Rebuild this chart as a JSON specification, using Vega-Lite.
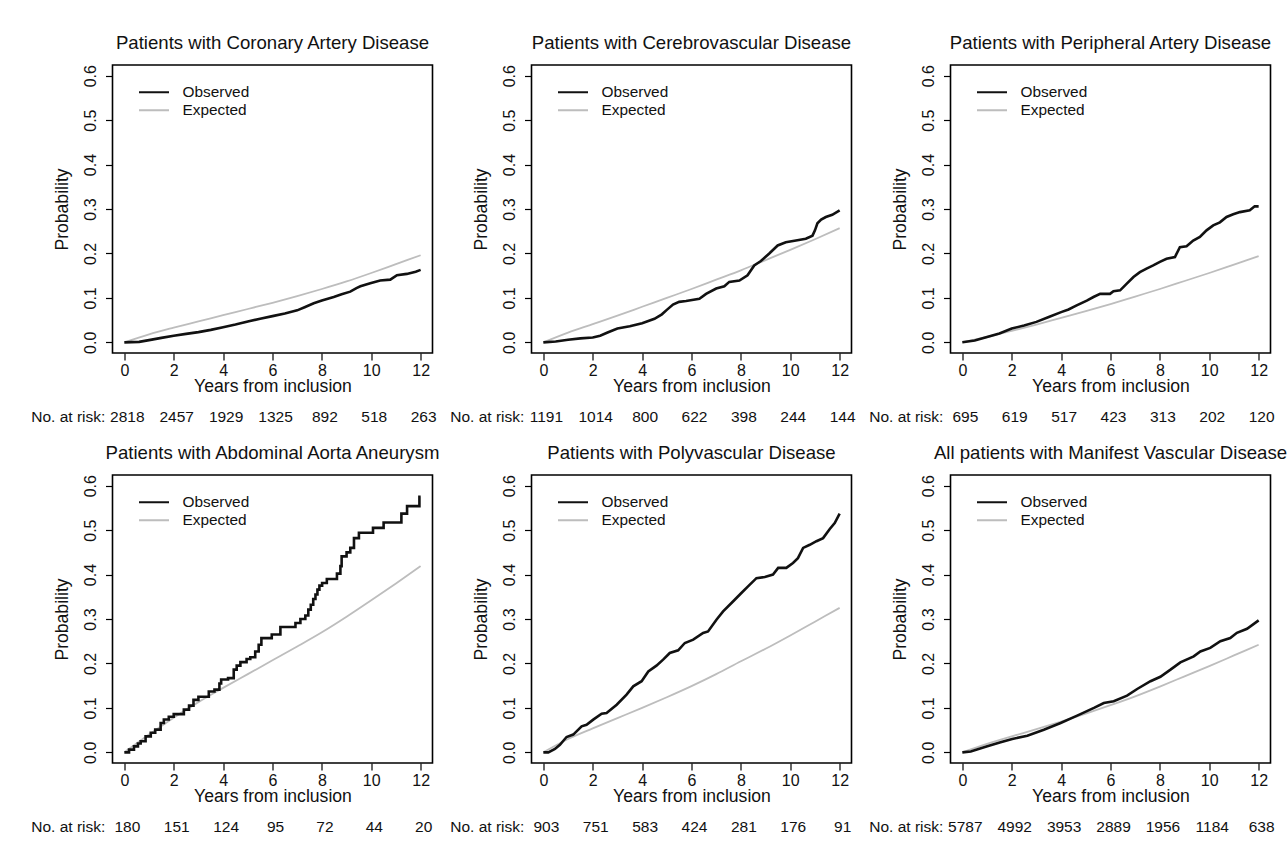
{
"$schema":"https://vega.github.io/schema/vega-lite/v6.json",
"background":"white",
"padding":{"left":29.5,"top":33,"right":5,"bottom":5},
"datasets":{
"curves":[
{"panel":"CAD","series":"Observed","t":0,"p":0},{"panel":"CAD","series":"Observed","t":0.6,"p":0.001},{"panel":"CAD","series":"Observed","t":1,"p":0.005},{"panel":"CAD","series":"Observed","t":1.5,"p":0.01},{"panel":"CAD","series":"Observed","t":2,"p":0.015},{"panel":"CAD","series":"Observed","t":2.5,"p":0.019},{"panel":"CAD","series":"Observed","t":3,"p":0.023},{"panel":"CAD","series":"Observed","t":3.5,"p":0.028},{"panel":"CAD","series":"Observed","t":4,"p":0.034},{"panel":"CAD","series":"Observed","t":4.5,"p":0.04},{"panel":"CAD","series":"Observed","t":5,"p":0.047},{"panel":"CAD","series":"Observed","t":5.5,"p":0.053},{"panel":"CAD","series":"Observed","t":6,"p":0.059},{"panel":"CAD","series":"Observed","t":6.5,"p":0.065},{"panel":"CAD","series":"Observed","t":7,"p":0.072},{"panel":"CAD","series":"Observed","t":7.3,"p":0.079},{"panel":"CAD","series":"Observed","t":7.67,"p":0.088},{"panel":"CAD","series":"Observed","t":8,"p":0.094},{"panel":"CAD","series":"Observed","t":8.48,"p":0.102},{"panel":"CAD","series":"Observed","t":8.8,"p":0.108},{"panel":"CAD","series":"Observed","t":9.15,"p":0.114},{"panel":"CAD","series":"Observed","t":9.4,"p":0.122},{"panel":"CAD","series":"Observed","t":9.56,"p":0.126},{"panel":"CAD","series":"Observed","t":9.96,"p":0.133},{"panel":"CAD","series":"Observed","t":10.36,"p":0.139},{"panel":"CAD","series":"Observed","t":10.77,"p":0.141},{"panel":"CAD","series":"Observed","t":11.04,"p":0.151},{"panel":"CAD","series":"Observed","t":11.44,"p":0.154},{"panel":"CAD","series":"Observed","t":11.8,"p":0.159},{"panel":"CAD","series":"Observed","t":12,"p":0.163},
{"panel":"CAD","series":"Expected","t":0,"p":0},{"panel":"CAD","series":"Expected","t":1,"p":0.018},{"panel":"CAD","series":"Expected","t":2,"p":0.033},{"panel":"CAD","series":"Expected","t":3,"p":0.047},{"panel":"CAD","series":"Expected","t":4,"p":0.061},{"panel":"CAD","series":"Expected","t":5,"p":0.075},{"panel":"CAD","series":"Expected","t":6,"p":0.089},{"panel":"CAD","series":"Expected","t":7,"p":0.104},{"panel":"CAD","series":"Expected","t":8,"p":0.12},{"panel":"CAD","series":"Expected","t":9,"p":0.137},{"panel":"CAD","series":"Expected","t":10,"p":0.156},{"panel":"CAD","series":"Expected","t":11,"p":0.176},{"panel":"CAD","series":"Expected","t":12,"p":0.196},
{"panel":"CVD","series":"Observed","t":0,"p":0},{"panel":"CVD","series":"Observed","t":0.5,"p":0.002},{"panel":"CVD","series":"Observed","t":1,"p":0.006},{"panel":"CVD","series":"Observed","t":1.5,"p":0.009},{"panel":"CVD","series":"Observed","t":2,"p":0.011},{"panel":"CVD","series":"Observed","t":2.3,"p":0.015},{"panel":"CVD","series":"Observed","t":2.6,"p":0.022},{"panel":"CVD","series":"Observed","t":3,"p":0.031},{"panel":"CVD","series":"Observed","t":3.5,"p":0.036},{"panel":"CVD","series":"Observed","t":4,"p":0.043},{"panel":"CVD","series":"Observed","t":4.5,"p":0.053},{"panel":"CVD","series":"Observed","t":4.8,"p":0.063},{"panel":"CVD","series":"Observed","t":5,"p":0.073},{"panel":"CVD","series":"Observed","t":5.25,"p":0.085},{"panel":"CVD","series":"Observed","t":5.5,"p":0.091},{"panel":"CVD","series":"Observed","t":5.78,"p":0.093},{"panel":"CVD","series":"Observed","t":6.32,"p":0.098},{"panel":"CVD","series":"Observed","t":6.59,"p":0.109},{"panel":"CVD","series":"Observed","t":7,"p":0.121},{"panel":"CVD","series":"Observed","t":7.33,"p":0.126},{"panel":"CVD","series":"Observed","t":7.53,"p":0.136},{"panel":"CVD","series":"Observed","t":7.94,"p":0.139},{"panel":"CVD","series":"Observed","t":8.27,"p":0.151},{"panel":"CVD","series":"Observed","t":8.54,"p":0.173},{"panel":"CVD","series":"Observed","t":8.81,"p":0.183},{"panel":"CVD","series":"Observed","t":9.15,"p":0.2},{"panel":"CVD","series":"Observed","t":9.49,"p":0.218},{"panel":"CVD","series":"Observed","t":9.82,"p":0.225},{"panel":"CVD","series":"Observed","t":10.23,"p":0.229},{"panel":"CVD","series":"Observed","t":10.63,"p":0.233},{"panel":"CVD","series":"Observed","t":10.9,"p":0.24},{"panel":"CVD","series":"Observed","t":11,"p":0.252},{"panel":"CVD","series":"Observed","t":11.1,"p":0.268},{"panel":"CVD","series":"Observed","t":11.25,"p":0.276},{"panel":"CVD","series":"Observed","t":11.44,"p":0.282},{"panel":"CVD","series":"Observed","t":11.7,"p":0.287},{"panel":"CVD","series":"Observed","t":12,"p":0.297},
{"panel":"CVD","series":"Expected","t":0,"p":0},{"panel":"CVD","series":"Expected","t":1,"p":0.022},{"panel":"CVD","series":"Expected","t":2,"p":0.041},{"panel":"CVD","series":"Expected","t":3,"p":0.06},{"panel":"CVD","series":"Expected","t":4,"p":0.08},{"panel":"CVD","series":"Expected","t":5,"p":0.1},{"panel":"CVD","series":"Expected","t":6,"p":0.12},{"panel":"CVD","series":"Expected","t":7,"p":0.141},{"panel":"CVD","series":"Expected","t":8,"p":0.162},{"panel":"CVD","series":"Expected","t":9,"p":0.185},{"panel":"CVD","series":"Expected","t":10,"p":0.208},{"panel":"CVD","series":"Expected","t":11,"p":0.232},{"panel":"CVD","series":"Expected","t":12,"p":0.257},
{"panel":"PAD","series":"Observed","t":0,"p":0},{"panel":"PAD","series":"Observed","t":0.5,"p":0.004},{"panel":"PAD","series":"Observed","t":1,"p":0.012},{"panel":"PAD","series":"Observed","t":1.5,"p":0.02},{"panel":"PAD","series":"Observed","t":2,"p":0.031},{"panel":"PAD","series":"Observed","t":2.5,"p":0.038},{"panel":"PAD","series":"Observed","t":3,"p":0.046},{"panel":"PAD","series":"Observed","t":3.5,"p":0.057},{"panel":"PAD","series":"Observed","t":4,"p":0.068},{"panel":"PAD","series":"Observed","t":4.3,"p":0.074},{"panel":"PAD","series":"Observed","t":4.63,"p":0.083},{"panel":"PAD","series":"Observed","t":5.04,"p":0.094},{"panel":"PAD","series":"Observed","t":5.31,"p":0.102},{"panel":"PAD","series":"Observed","t":5.58,"p":0.109},{"panel":"PAD","series":"Observed","t":5.98,"p":0.109},{"panel":"PAD","series":"Observed","t":6.12,"p":0.115},{"panel":"PAD","series":"Observed","t":6.39,"p":0.117},{"panel":"PAD","series":"Observed","t":6.66,"p":0.132},{"panel":"PAD","series":"Observed","t":6.93,"p":0.147},{"panel":"PAD","series":"Observed","t":7.19,"p":0.158},{"panel":"PAD","series":"Observed","t":7.46,"p":0.166},{"panel":"PAD","series":"Observed","t":7.73,"p":0.173},{"panel":"PAD","series":"Observed","t":8,"p":0.181},{"panel":"PAD","series":"Observed","t":8.27,"p":0.188},{"panel":"PAD","series":"Observed","t":8.61,"p":0.192},{"panel":"PAD","series":"Observed","t":8.81,"p":0.214},{"panel":"PAD","series":"Observed","t":9.08,"p":0.216},{"panel":"PAD","series":"Observed","t":9.35,"p":0.229},{"panel":"PAD","series":"Observed","t":9.62,"p":0.237},{"panel":"PAD","series":"Observed","t":9.89,"p":0.252},{"panel":"PAD","series":"Observed","t":10.16,"p":0.263},{"panel":"PAD","series":"Observed","t":10.43,"p":0.27},{"panel":"PAD","series":"Observed","t":10.7,"p":0.282},{"panel":"PAD","series":"Observed","t":10.97,"p":0.288},{"panel":"PAD","series":"Observed","t":11.24,"p":0.293},{"panel":"PAD","series":"Observed","t":11.64,"p":0.297},{"panel":"PAD","series":"Observed","t":11.84,"p":0.306},{"panel":"PAD","series":"Observed","t":12,"p":0.306},
{"panel":"PAD","series":"Expected","t":0,"p":0},{"panel":"PAD","series":"Expected","t":1,"p":0.012},{"panel":"PAD","series":"Expected","t":2,"p":0.026},{"panel":"PAD","series":"Expected","t":3,"p":0.04},{"panel":"PAD","series":"Expected","t":4,"p":0.055},{"panel":"PAD","series":"Expected","t":5,"p":0.07},{"panel":"PAD","series":"Expected","t":6,"p":0.086},{"panel":"PAD","series":"Expected","t":7,"p":0.103},{"panel":"PAD","series":"Expected","t":8,"p":0.12},{"panel":"PAD","series":"Expected","t":9,"p":0.138},{"panel":"PAD","series":"Expected","t":10,"p":0.156},{"panel":"PAD","series":"Expected","t":11,"p":0.175},{"panel":"PAD","series":"Expected","t":12,"p":0.194},
{"panel":"AAA","series":"Observed","t":0,"p":0},{"panel":"AAA","series":"Observed","t":0.19,"p":0.006},{"panel":"AAA","series":"Observed","t":0.39,"p":0.0135},{"panel":"AAA","series":"Observed","t":0.55,"p":0.02},{"panel":"AAA","series":"Observed","t":0.66,"p":0.025},{"panel":"AAA","series":"Observed","t":0.86,"p":0.036},{"panel":"AAA","series":"Observed","t":1.07,"p":0.044},{"panel":"AAA","series":"Observed","t":1.25,"p":0.051},{"panel":"AAA","series":"Observed","t":1.47,"p":0.066},{"panel":"AAA","series":"Observed","t":1.6,"p":0.074},{"panel":"AAA","series":"Observed","t":1.8,"p":0.08},{"panel":"AAA","series":"Observed","t":2,"p":0.086},{"panel":"AAA","series":"Observed","t":2.41,"p":0.096},{"panel":"AAA","series":"Observed","t":2.62,"p":0.105},{"panel":"AAA","series":"Observed","t":2.8,"p":0.118},{"panel":"AAA","series":"Observed","t":3,"p":0.125},{"panel":"AAA","series":"Observed","t":3.42,"p":0.137},{"panel":"AAA","series":"Observed","t":3.65,"p":0.141},{"panel":"AAA","series":"Observed","t":3.85,"p":0.155},{"panel":"AAA","series":"Observed","t":3.92,"p":0.164},{"panel":"AAA","series":"Observed","t":4.2,"p":0.167},{"panel":"AAA","series":"Observed","t":4.43,"p":0.186},{"panel":"AAA","series":"Observed","t":4.55,"p":0.195},{"panel":"AAA","series":"Observed","t":4.7,"p":0.203},{"panel":"AAA","series":"Observed","t":4.95,"p":0.21},{"panel":"AAA","series":"Observed","t":5.1,"p":0.214},{"panel":"AAA","series":"Observed","t":5.3,"p":0.227},{"panel":"AAA","series":"Observed","t":5.44,"p":0.242},{"panel":"AAA","series":"Observed","t":5.55,"p":0.257},{"panel":"AAA","series":"Observed","t":5.97,"p":0.265},{"panel":"AAA","series":"Observed","t":6.32,"p":0.282},{"panel":"AAA","series":"Observed","t":6.93,"p":0.291},{"panel":"AAA","series":"Observed","t":7.13,"p":0.3},{"panel":"AAA","series":"Observed","t":7.33,"p":0.308},{"panel":"AAA","series":"Observed","t":7.45,"p":0.321},{"panel":"AAA","series":"Observed","t":7.55,"p":0.332},{"panel":"AAA","series":"Observed","t":7.65,"p":0.345},{"panel":"AAA","series":"Observed","t":7.74,"p":0.355},{"panel":"AAA","series":"Observed","t":7.82,"p":0.366},{"panel":"AAA","series":"Observed","t":7.9,"p":0.375},{"panel":"AAA","series":"Observed","t":8.01,"p":0.381},{"panel":"AAA","series":"Observed","t":8.2,"p":0.39},{"panel":"AAA","series":"Observed","t":8.61,"p":0.402},{"panel":"AAA","series":"Observed","t":8.75,"p":0.419},{"panel":"AAA","series":"Observed","t":8.8,"p":0.441},{"panel":"AAA","series":"Observed","t":9,"p":0.45},{"panel":"AAA","series":"Observed","t":9.15,"p":0.46},{"panel":"AAA","series":"Observed","t":9.3,"p":0.482},{"panel":"AAA","series":"Observed","t":9.5,"p":0.494},{"panel":"AAA","series":"Observed","t":10.07,"p":0.505},{"panel":"AAA","series":"Observed","t":10.5,"p":0.517},{"panel":"AAA","series":"Observed","t":11.22,"p":0.537},{"panel":"AAA","series":"Observed","t":11.45,"p":0.554},{"panel":"AAA","series":"Observed","t":11.95,"p":0.575},{"panel":"AAA","series":"Observed","t":12,"p":0.575},
{"panel":"AAA","series":"Expected","t":0,"p":0},{"panel":"AAA","series":"Expected","t":1,"p":0.04},{"panel":"AAA","series":"Expected","t":2,"p":0.078},{"panel":"AAA","series":"Expected","t":3,"p":0.113},{"panel":"AAA","series":"Expected","t":4,"p":0.145},{"panel":"AAA","series":"Expected","t":5,"p":0.176},{"panel":"AAA","series":"Expected","t":6,"p":0.207},{"panel":"AAA","series":"Expected","t":7,"p":0.238},{"panel":"AAA","series":"Expected","t":8,"p":0.27},{"panel":"AAA","series":"Expected","t":9,"p":0.305},{"panel":"AAA","series":"Expected","t":10,"p":0.342},{"panel":"AAA","series":"Expected","t":11,"p":0.38},{"panel":"AAA","series":"Expected","t":12,"p":0.419},
{"panel":"POLY","series":"Observed","t":0,"p":0},{"panel":"POLY","series":"Observed","t":0.2,"p":0},{"panel":"POLY","series":"Observed","t":0.47,"p":0.0075},{"panel":"POLY","series":"Observed","t":0.67,"p":0.017},{"panel":"POLY","series":"Observed","t":0.94,"p":0.0345},{"panel":"POLY","series":"Observed","t":1.21,"p":0.04},{"panel":"POLY","series":"Observed","t":1.55,"p":0.0585},{"panel":"POLY","series":"Observed","t":1.75,"p":0.062},{"panel":"POLY","series":"Observed","t":2.02,"p":0.0735},{"panel":"POLY","series":"Observed","t":2.36,"p":0.087},{"panel":"POLY","series":"Observed","t":2.56,"p":0.0885},{"panel":"POLY","series":"Observed","t":2.97,"p":0.107},{"panel":"POLY","series":"Observed","t":3.37,"p":0.13},{"panel":"POLY","series":"Observed","t":3.64,"p":0.1485},{"panel":"POLY","series":"Observed","t":3.98,"p":0.16},{"panel":"POLY","series":"Observed","t":4.25,"p":0.182},{"panel":"POLY","series":"Observed","t":4.58,"p":0.195},{"panel":"POLY","series":"Observed","t":4.85,"p":0.2085},{"panel":"POLY","series":"Observed","t":5.12,"p":0.2235},{"panel":"POLY","series":"Observed","t":5.46,"p":0.2295},{"panel":"POLY","series":"Observed","t":5.73,"p":0.246},{"panel":"POLY","series":"Observed","t":6.07,"p":0.2535},{"panel":"POLY","series":"Observed","t":6.47,"p":0.2685},{"panel":"POLY","series":"Observed","t":6.67,"p":0.272},{"panel":"POLY","series":"Observed","t":7.01,"p":0.2985},{"panel":"POLY","series":"Observed","t":7.28,"p":0.317},{"panel":"POLY","series":"Observed","t":7.69,"p":0.34},{"panel":"POLY","series":"Observed","t":8.02,"p":0.3585},{"panel":"POLY","series":"Observed","t":8.29,"p":0.3735},{"panel":"POLY","series":"Observed","t":8.63,"p":0.392},{"panel":"POLY","series":"Observed","t":8.97,"p":0.3945},{"panel":"POLY","series":"Observed","t":9.3,"p":0.4},{"panel":"POLY","series":"Observed","t":9.51,"p":0.415},{"panel":"POLY","series":"Observed","t":9.84,"p":0.415},{"panel":"POLY","series":"Observed","t":10.11,"p":0.426},{"panel":"POLY","series":"Observed","t":10.31,"p":0.437},{"panel":"POLY","series":"Observed","t":10.52,"p":0.46},{"panel":"POLY","series":"Observed","t":10.79,"p":0.467},{"panel":"POLY","series":"Observed","t":11.06,"p":0.475},{"panel":"POLY","series":"Observed","t":11.33,"p":0.482},{"panel":"POLY","series":"Observed","t":11.6,"p":0.5025},{"panel":"POLY","series":"Observed","t":11.8,"p":0.516},{"panel":"POLY","series":"Observed","t":12,"p":0.537},
{"panel":"POLY","series":"Expected","t":0,"p":0},{"panel":"POLY","series":"Expected","t":1,"p":0.03},{"panel":"POLY","series":"Expected","t":2,"p":0.054},{"panel":"POLY","series":"Expected","t":3,"p":0.077},{"panel":"POLY","series":"Expected","t":4,"p":0.1},{"panel":"POLY","series":"Expected","t":5,"p":0.124},{"panel":"POLY","series":"Expected","t":6,"p":0.149},{"panel":"POLY","series":"Expected","t":7,"p":0.176},{"panel":"POLY","series":"Expected","t":8,"p":0.205},{"panel":"POLY","series":"Expected","t":9,"p":0.233},{"panel":"POLY","series":"Expected","t":10,"p":0.263},{"panel":"POLY","series":"Expected","t":11,"p":0.294},{"panel":"POLY","series":"Expected","t":12,"p":0.325},
{"panel":"ALL","series":"Observed","t":0,"p":0},{"panel":"ALL","series":"Observed","t":0.34,"p":0.002},{"panel":"ALL","series":"Observed","t":1.01,"p":0.0135},{"panel":"ALL","series":"Observed","t":1.55,"p":0.0225},{"panel":"ALL","series":"Observed","t":2.02,"p":0.03},{"panel":"ALL","series":"Observed","t":2.63,"p":0.0375},{"panel":"ALL","series":"Observed","t":3.3,"p":0.051},{"panel":"ALL","series":"Observed","t":3.98,"p":0.066},{"panel":"ALL","series":"Observed","t":4.65,"p":0.0825},{"panel":"ALL","series":"Observed","t":5.33,"p":0.1},{"panel":"ALL","series":"Observed","t":5.73,"p":0.111},{"panel":"ALL","series":"Observed","t":6.13,"p":0.115},{"panel":"ALL","series":"Observed","t":6.67,"p":0.1275},{"panel":"ALL","series":"Observed","t":7.08,"p":0.1425},{"panel":"ALL","series":"Observed","t":7.62,"p":0.16},{"panel":"ALL","series":"Observed","t":8.02,"p":0.17},{"panel":"ALL","series":"Observed","t":8.43,"p":0.186},{"panel":"ALL","series":"Observed","t":8.83,"p":0.2025},{"panel":"ALL","series":"Observed","t":9.37,"p":0.216},{"panel":"ALL","series":"Observed","t":9.64,"p":0.227},{"panel":"ALL","series":"Observed","t":10.04,"p":0.235},{"panel":"ALL","series":"Observed","t":10.45,"p":0.25},{"panel":"ALL","series":"Observed","t":10.85,"p":0.257},{"panel":"ALL","series":"Observed","t":11.12,"p":0.269},{"panel":"ALL","series":"Observed","t":11.53,"p":0.278},{"panel":"ALL","series":"Observed","t":12,"p":0.297},
{"panel":"ALL","series":"Expected","t":0,"p":0},{"panel":"ALL","series":"Expected","t":1,"p":0.019},{"panel":"ALL","series":"Expected","t":2,"p":0.036},{"panel":"ALL","series":"Expected","t":3,"p":0.052},{"panel":"ALL","series":"Expected","t":4,"p":0.069},{"panel":"ALL","series":"Expected","t":5,"p":0.087},{"panel":"ALL","series":"Expected","t":6,"p":0.106},{"panel":"ALL","series":"Expected","t":7,"p":0.126},{"panel":"ALL","series":"Expected","t":8,"p":0.148},{"panel":"ALL","series":"Expected","t":9,"p":0.171},{"panel":"ALL","series":"Expected","t":10,"p":0.194},{"panel":"ALL","series":"Expected","t":11,"p":0.218},{"panel":"ALL","series":"Expected","t":12,"p":0.242}
],
"risk":[
{"panel":"CAD","t":0,"n":2818},{"panel":"CAD","t":2,"n":2457},{"panel":"CAD","t":4,"n":1929},{"panel":"CAD","t":6,"n":1325},{"panel":"CAD","t":8,"n":892},{"panel":"CAD","t":10,"n":518},{"panel":"CAD","t":12,"n":263},
{"panel":"CVD","t":0,"n":1191},{"panel":"CVD","t":2,"n":1014},{"panel":"CVD","t":4,"n":800},{"panel":"CVD","t":6,"n":622},{"panel":"CVD","t":8,"n":398},{"panel":"CVD","t":10,"n":244},{"panel":"CVD","t":12,"n":144},
{"panel":"PAD","t":0,"n":695},{"panel":"PAD","t":2,"n":619},{"panel":"PAD","t":4,"n":517},{"panel":"PAD","t":6,"n":423},{"panel":"PAD","t":8,"n":313},{"panel":"PAD","t":10,"n":202},{"panel":"PAD","t":12,"n":120},
{"panel":"AAA","t":0,"n":180},{"panel":"AAA","t":2,"n":151},{"panel":"AAA","t":4,"n":124},{"panel":"AAA","t":6,"n":95},{"panel":"AAA","t":8,"n":72},{"panel":"AAA","t":10,"n":44},{"panel":"AAA","t":12,"n":20},
{"panel":"POLY","t":0,"n":903},{"panel":"POLY","t":2,"n":751},{"panel":"POLY","t":4,"n":583},{"panel":"POLY","t":6,"n":424},{"panel":"POLY","t":8,"n":281},{"panel":"POLY","t":10,"n":176},{"panel":"POLY","t":12,"n":91},
{"panel":"ALL","t":0,"n":5787},{"panel":"ALL","t":2,"n":4992},{"panel":"ALL","t":4,"n":3953},{"panel":"ALL","t":6,"n":2889},{"panel":"ALL","t":8,"n":1956},{"panel":"ALL","t":10,"n":1184},{"panel":"ALL","t":12,"n":638}
],
"label":[{"label":"No. at risk:"}]
},
"columns":3,
"bounds":"flush",
"spacing":{"row":122,"column":99},
"resolve":{"legend":{"stroke":"independent"}},
"concat":[
{"title":"Patients with Coronary Artery Disease","width":320,"height":288,
"layer":[
{"data":{"name":"curves"},"transform":[{"filter":"datum.panel === 'CAD' && datum.series === 'Expected'"}],"mark":{"type":"line","strokeWidth":1.8,"interpolate":"monotone"},"encoding":{"x":{"field":"t","type":"quantitative","scale":{"domain":[-0.48,12.48],"nice":false,"zero":false},"axis":{"values":[0,2,4,6,8,10,12],"title":"Years from inclusion"}},"y":{"field":"p","type":"quantitative","scale":{"domain":[-0.024,0.624],"nice":false,"zero":false},"axis":{"values":[0,0.1,0.2,0.3,0.4,0.5,0.6],"format":".1f","title":"Probability"}},"stroke":{"field":"series","type":"nominal","scale":{"domain":["Observed","Expected"],"range":["#111111","#bdbdbd"]},"legend":{"orient":"none","legendX":25,"legendY":18.5,"title":null,"symbolType":"stroke","symbolSize":900,"symbolStrokeWidth":2.2,"labelFontSize":15.4,"labelOffset":12,"clipHeight":17.5,"rowPadding":0,"padding":0,"labelColor":"#111111"}}}},
{"data":{"name":"curves"},"transform":[{"filter":"datum.panel === 'CAD' && datum.series === 'Observed'"}],"mark":{"type":"line","strokeWidth":2.6},"encoding":{"x":{"field":"t","type":"quantitative"},"y":{"field":"p","type":"quantitative"},"stroke":{"field":"series","type":"nominal"}}},
{"data":{"name":"risk"},"transform":[{"filter":"datum.panel === 'CAD'"}],"mark":{"type":"text","baseline":"middle","dx":3},"encoding":{"x":{"field":"t","type":"quantitative"},"y":{"datum":-0.169,"type":"quantitative"},"text":{"field":"n","type":"quantitative"}}},
{"data":{"name":"label"},"mark":{"type":"text","baseline":"middle","align":"right","dx":-19},"encoding":{"x":{"datum":0,"type":"quantitative"},"y":{"datum":-0.169,"type":"quantitative"},"text":{"field":"label","type":"nominal"}}}
]},
{"title":"Patients with Cerebrovascular Disease","width":320,"height":288,
"layer":[
{"data":{"name":"curves"},"transform":[{"filter":"datum.panel === 'CVD' && datum.series === 'Expected'"}],"mark":{"type":"line","strokeWidth":1.8,"interpolate":"monotone"},"encoding":{"x":{"field":"t","type":"quantitative","scale":{"domain":[-0.48,12.48],"nice":false,"zero":false},"axis":{"values":[0,2,4,6,8,10,12],"title":"Years from inclusion"}},"y":{"field":"p","type":"quantitative","scale":{"domain":[-0.024,0.624],"nice":false,"zero":false},"axis":{"values":[0,0.1,0.2,0.3,0.4,0.5,0.6],"format":".1f","title":"Probability"}},"stroke":{"field":"series","type":"nominal","scale":{"domain":["Observed","Expected"],"range":["#111111","#bdbdbd"]},"legend":{"orient":"none","legendX":25,"legendY":18.5,"title":null,"symbolType":"stroke","symbolSize":900,"symbolStrokeWidth":2.2,"labelFontSize":15.4,"labelOffset":12,"clipHeight":17.5,"rowPadding":0,"padding":0,"labelColor":"#111111"}}}},
{"data":{"name":"curves"},"transform":[{"filter":"datum.panel === 'CVD' && datum.series === 'Observed'"}],"mark":{"type":"line","strokeWidth":2.6},"encoding":{"x":{"field":"t","type":"quantitative"},"y":{"field":"p","type":"quantitative"},"stroke":{"field":"series","type":"nominal"}}},
{"data":{"name":"risk"},"transform":[{"filter":"datum.panel === 'CVD'"}],"mark":{"type":"text","baseline":"middle","dx":3},"encoding":{"x":{"field":"t","type":"quantitative"},"y":{"datum":-0.169,"type":"quantitative"},"text":{"field":"n","type":"quantitative"}}},
{"data":{"name":"label"},"mark":{"type":"text","baseline":"middle","align":"right","dx":-19},"encoding":{"x":{"datum":0,"type":"quantitative"},"y":{"datum":-0.169,"type":"quantitative"},"text":{"field":"label","type":"nominal"}}}
]},
{"title":"Patients with Peripheral Artery Disease","width":320,"height":288,
"layer":[
{"data":{"name":"curves"},"transform":[{"filter":"datum.panel === 'PAD' && datum.series === 'Expected'"}],"mark":{"type":"line","strokeWidth":1.8,"interpolate":"monotone"},"encoding":{"x":{"field":"t","type":"quantitative","scale":{"domain":[-0.48,12.48],"nice":false,"zero":false},"axis":{"values":[0,2,4,6,8,10,12],"title":"Years from inclusion"}},"y":{"field":"p","type":"quantitative","scale":{"domain":[-0.024,0.624],"nice":false,"zero":false},"axis":{"values":[0,0.1,0.2,0.3,0.4,0.5,0.6],"format":".1f","title":"Probability"}},"stroke":{"field":"series","type":"nominal","scale":{"domain":["Observed","Expected"],"range":["#111111","#bdbdbd"]},"legend":{"orient":"none","legendX":25,"legendY":18.5,"title":null,"symbolType":"stroke","symbolSize":900,"symbolStrokeWidth":2.2,"labelFontSize":15.4,"labelOffset":12,"clipHeight":17.5,"rowPadding":0,"padding":0,"labelColor":"#111111"}}}},
{"data":{"name":"curves"},"transform":[{"filter":"datum.panel === 'PAD' && datum.series === 'Observed'"}],"mark":{"type":"line","strokeWidth":2.6},"encoding":{"x":{"field":"t","type":"quantitative"},"y":{"field":"p","type":"quantitative"},"stroke":{"field":"series","type":"nominal"}}},
{"data":{"name":"risk"},"transform":[{"filter":"datum.panel === 'PAD'"}],"mark":{"type":"text","baseline":"middle","dx":3},"encoding":{"x":{"field":"t","type":"quantitative"},"y":{"datum":-0.169,"type":"quantitative"},"text":{"field":"n","type":"quantitative"}}},
{"data":{"name":"label"},"mark":{"type":"text","baseline":"middle","align":"right","dx":-19},"encoding":{"x":{"datum":0,"type":"quantitative"},"y":{"datum":-0.169,"type":"quantitative"},"text":{"field":"label","type":"nominal"}}}
]},
{"title":"Patients with Abdominal Aorta Aneurysm","width":320,"height":288,
"layer":[
{"data":{"name":"curves"},"transform":[{"filter":"datum.panel === 'AAA' && datum.series === 'Expected'"}],"mark":{"type":"line","strokeWidth":1.8,"interpolate":"monotone"},"encoding":{"x":{"field":"t","type":"quantitative","scale":{"domain":[-0.48,12.48],"nice":false,"zero":false},"axis":{"values":[0,2,4,6,8,10,12],"title":"Years from inclusion"}},"y":{"field":"p","type":"quantitative","scale":{"domain":[-0.024,0.624],"nice":false,"zero":false},"axis":{"values":[0,0.1,0.2,0.3,0.4,0.5,0.6],"format":".1f","title":"Probability"}},"stroke":{"field":"series","type":"nominal","scale":{"domain":["Observed","Expected"],"range":["#111111","#bdbdbd"]},"legend":{"orient":"none","legendX":25,"legendY":18.5,"title":null,"symbolType":"stroke","symbolSize":900,"symbolStrokeWidth":2.2,"labelFontSize":15.4,"labelOffset":12,"clipHeight":17.5,"rowPadding":0,"padding":0,"labelColor":"#111111"}}}},
{"data":{"name":"curves"},"transform":[{"filter":"datum.panel === 'AAA' && datum.series === 'Observed'"}],"mark":{"type":"line","strokeWidth":2.6,"interpolate":"step-after"},"encoding":{"x":{"field":"t","type":"quantitative"},"y":{"field":"p","type":"quantitative"},"stroke":{"field":"series","type":"nominal"}}},
{"data":{"name":"risk"},"transform":[{"filter":"datum.panel === 'AAA'"}],"mark":{"type":"text","baseline":"middle","dx":3},"encoding":{"x":{"field":"t","type":"quantitative"},"y":{"datum":-0.169,"type":"quantitative"},"text":{"field":"n","type":"quantitative"}}},
{"data":{"name":"label"},"mark":{"type":"text","baseline":"middle","align":"right","dx":-19},"encoding":{"x":{"datum":0,"type":"quantitative"},"y":{"datum":-0.169,"type":"quantitative"},"text":{"field":"label","type":"nominal"}}}
]},
{"title":"Patients with Polyvascular Disease","width":320,"height":288,
"layer":[
{"data":{"name":"curves"},"transform":[{"filter":"datum.panel === 'POLY' && datum.series === 'Expected'"}],"mark":{"type":"line","strokeWidth":1.8,"interpolate":"monotone"},"encoding":{"x":{"field":"t","type":"quantitative","scale":{"domain":[-0.48,12.48],"nice":false,"zero":false},"axis":{"values":[0,2,4,6,8,10,12],"title":"Years from inclusion"}},"y":{"field":"p","type":"quantitative","scale":{"domain":[-0.024,0.624],"nice":false,"zero":false},"axis":{"values":[0,0.1,0.2,0.3,0.4,0.5,0.6],"format":".1f","title":"Probability"}},"stroke":{"field":"series","type":"nominal","scale":{"domain":["Observed","Expected"],"range":["#111111","#bdbdbd"]},"legend":{"orient":"none","legendX":25,"legendY":18.5,"title":null,"symbolType":"stroke","symbolSize":900,"symbolStrokeWidth":2.2,"labelFontSize":15.4,"labelOffset":12,"clipHeight":17.5,"rowPadding":0,"padding":0,"labelColor":"#111111"}}}},
{"data":{"name":"curves"},"transform":[{"filter":"datum.panel === 'POLY' && datum.series === 'Observed'"}],"mark":{"type":"line","strokeWidth":2.6},"encoding":{"x":{"field":"t","type":"quantitative"},"y":{"field":"p","type":"quantitative"},"stroke":{"field":"series","type":"nominal"}}},
{"data":{"name":"risk"},"transform":[{"filter":"datum.panel === 'POLY'"}],"mark":{"type":"text","baseline":"middle","dx":3},"encoding":{"x":{"field":"t","type":"quantitative"},"y":{"datum":-0.169,"type":"quantitative"},"text":{"field":"n","type":"quantitative"}}},
{"data":{"name":"label"},"mark":{"type":"text","baseline":"middle","align":"right","dx":-19},"encoding":{"x":{"datum":0,"type":"quantitative"},"y":{"datum":-0.169,"type":"quantitative"},"text":{"field":"label","type":"nominal"}}}
]},
{"title":"All patients with Manifest Vascular Disease","width":320,"height":288,
"layer":[
{"data":{"name":"curves"},"transform":[{"filter":"datum.panel === 'ALL' && datum.series === 'Expected'"}],"mark":{"type":"line","strokeWidth":1.8,"interpolate":"monotone"},"encoding":{"x":{"field":"t","type":"quantitative","scale":{"domain":[-0.48,12.48],"nice":false,"zero":false},"axis":{"values":[0,2,4,6,8,10,12],"title":"Years from inclusion"}},"y":{"field":"p","type":"quantitative","scale":{"domain":[-0.024,0.624],"nice":false,"zero":false},"axis":{"values":[0,0.1,0.2,0.3,0.4,0.5,0.6],"format":".1f","title":"Probability"}},"stroke":{"field":"series","type":"nominal","scale":{"domain":["Observed","Expected"],"range":["#111111","#bdbdbd"]},"legend":{"orient":"none","legendX":25,"legendY":18.5,"title":null,"symbolType":"stroke","symbolSize":900,"symbolStrokeWidth":2.2,"labelFontSize":15.4,"labelOffset":12,"clipHeight":17.5,"rowPadding":0,"padding":0,"labelColor":"#111111"}}}},
{"data":{"name":"curves"},"transform":[{"filter":"datum.panel === 'ALL' && datum.series === 'Observed'"}],"mark":{"type":"line","strokeWidth":2.6},"encoding":{"x":{"field":"t","type":"quantitative"},"y":{"field":"p","type":"quantitative"},"stroke":{"field":"series","type":"nominal"}}},
{"data":{"name":"risk"},"transform":[{"filter":"datum.panel === 'ALL'"}],"mark":{"type":"text","baseline":"middle","dx":3},"encoding":{"x":{"field":"t","type":"quantitative"},"y":{"datum":-0.169,"type":"quantitative"},"text":{"field":"n","type":"quantitative"}}},
{"data":{"name":"label"},"mark":{"type":"text","baseline":"middle","align":"right","dx":-19},"encoding":{"x":{"datum":0,"type":"quantitative"},"y":{"datum":-0.169,"type":"quantitative"},"text":{"field":"label","type":"nominal"}}}
]}
],
"config":{
"font":"Liberation Sans",
"view":{"stroke":"#000000","strokeWidth":1.6},
"axis":{"domain":false,"grid":false,"ticks":true,"tickColor":"#000000","tickWidth":1.2,"tickSize":7,"labelColor":"#111111","labelFontSize":16,"titleFontSize":17.6,"titleFontWeight":"normal","titleColor":"#111111"},
"axisX":{"labelPadding":2.5,"titleX":160,"titleY":38.5,"titleBaseline":"alphabetic","titleAlign":"center"},
"axisY":{"labelAngle":270,"labelAlign":"center","labelBaseline":"bottom","labelPadding":7,"titleAngle":270,"titleX":-45.4,"titleY":144,"titleBaseline":"alphabetic","titleAlign":"center"},
"title":{"fontSize":18.6,"fontWeight":"normal","color":"#111111","anchor":"middle","baseline":"alphabetic","offset":12},
"text":{"fontSize":15.5,"color":"#111111"}
}
}
